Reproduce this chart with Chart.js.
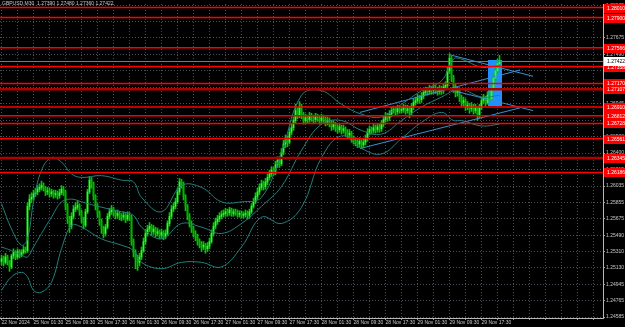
<!DOCTYPE html>
<html>
<head>
<meta charset="utf-8">
<script src="https://cdn.jsdelivr.net/npm/chart.js@4.4.1/dist/chart.umd.min.js"></script>
<style>
  html, body { margin: 0; padding: 0; background: #000; }
  canvas { display: block; }
</style>
</head>
<body>
<canvas id="gbpusd" width="625" height="327"></canvas>
<script>
// GBPUSD M30, 22 Nov - 29 Nov 2024, one entry per bar (bar index = position in array)
const timeLabels = ['22 Nov 2024', '25 Nov 01:30', '25 Nov 09:30', '25 Nov 17:30', '26 Nov 01:30', '26 Nov 09:30',
    '26 Nov 17:30', '27 Nov 01:30', '27 Nov 09:30', '27 Nov 17:30', '28 Nov 01:30', '28 Nov 09:30',
    '28 Nov 17:30', '29 Nov 01:30', '29 Nov 09:30', '29 Nov 17:30'];

const gridLevels = [1.24585, 1.24765, 1.24945, 1.25130, 1.25310, 1.25490, 1.25675, 1.25855, 1.26035, 1.26215,
    1.26400, 1.26580, 1.26760, 1.26945, 1.27125, 1.27310, 1.27490, 1.27675, 1.27855, 1.28035];

const opens = [
    1.2520,1.2523,1.2519,1.2525,1.2519,1.2514,1.2526,1.2530,1.2525,1.2531,
    1.2527,1.2530,1.2533,1.2532,1.2581,1.2589,1.2591,1.2595,1.2597,1.2600,
    1.2602,1.2604,1.2601,1.2597,1.2598,1.2595,1.2597,1.2594,1.2595,1.2593,
    1.2596,1.2600,1.2597,1.2581,1.2567,1.2559,1.2570,1.2578,1.2580,1.2582,
    1.2575,1.2567,1.2560,1.2575,1.2597,1.2610,1.2606,1.2592,1.2581,1.2573,
    1.2564,1.2556,1.2551,1.2558,1.2570,1.2575,1.2578,1.2573,1.2571,1.2573,
    1.2570,1.2569,1.2571,1.2567,1.2571,1.2569,1.2542,1.2530,1.2523,1.2519,
    1.2525,1.2532,1.2542,1.2551,1.2556,1.2559,1.2553,1.2556,1.2551,1.2553,
    1.2549,1.2552,1.2548,1.2551,1.2562,1.2570,1.2578,1.2581,1.2586,1.2597,
    1.2608,1.2606,1.2592,1.2581,1.2570,1.2562,1.2556,1.2551,1.2547,1.2542,
    1.2539,1.2536,1.2538,1.2534,1.2537,1.2542,1.2551,1.2559,1.2564,1.2567,
    1.2570,1.2572,1.2573,1.2575,1.2574,1.2577,1.2573,1.2575,1.2574,1.2572,
    1.2573,1.2571,1.2572,1.2573,1.2571,1.2575,1.2581,1.2586,1.2592,1.2597,
    1.2602,1.2606,1.2603,1.2608,1.2613,1.2617,1.2621,1.2619,1.2627,1.2632,
    1.2628,1.2641,1.2650,1.2656,1.2652,1.2663,1.2668,1.2676,1.2687,1.2682,
    1.2691,1.2682,1.2676,1.2679,1.2677,1.2681,1.2679,1.2677,1.2680,1.2678,
    1.2676,1.2679,1.2677,1.2674,1.2676,1.2673,1.2669,1.2672,1.2668,1.2666,
    1.2669,1.2665,1.2667,1.2663,1.2660,1.2662,1.2656,1.2654,1.2652,1.2650,
    1.2653,1.2649,1.2652,1.2656,1.2663,1.2666,1.2665,1.2668,1.2666,1.2669,
    1.2667,1.2672,1.2677,1.2681,1.2679,1.2683,1.2687,1.2688,1.2686,1.2689,
    1.2687,1.2688,1.2690,1.2687,1.2689,1.2685,1.2691,1.2696,1.2698,1.2701,
    1.2699,1.2703,1.2707,1.2709,1.2708,1.2711,1.2709,1.2712,1.2710,1.2708,
    1.2711,1.2709,1.2713,1.2715,1.2731,1.2745,1.2723,1.2712,1.2707,1.2709,
    1.2701,1.2696,1.2698,1.2691,1.2693,1.2689,1.2692,1.2687,1.2690,1.2682,
    1.2690,1.2698,1.2701,1.2696,1.2704,1.2700,1.2712,1.2723,1.2731,1.2739];

const highs = [
    1.2527,1.2526,1.2529,1.2527,1.2521,1.2528,1.2534,1.2532,1.2534,1.2533,
    1.2533,1.2537,1.2536,1.2585,1.2594,1.2596,1.2599,1.2601,1.2604,1.2606,
    1.2609,1.2607,1.2603,1.2602,1.2601,1.2600,1.2599,1.2599,1.2598,1.2600,
    1.2604,1.2603,1.2599,1.2584,1.2570,1.2574,1.2582,1.2585,1.2587,1.2584,
    1.2577,1.2569,1.2578,1.2600,1.2614,1.2613,1.2608,1.2594,1.2584,1.2576,
    1.2567,1.2559,1.2561,1.2573,1.2579,1.2582,1.2580,1.2576,1.2577,1.2575,
    1.2573,1.2575,1.2573,1.2575,1.2574,1.2571,1.2545,1.2533,1.2527,1.2529,
    1.2536,1.2546,1.2555,1.2560,1.2563,1.2561,1.2560,1.2558,1.2557,1.2555,
    1.2556,1.2554,1.2555,1.2565,1.2574,1.2582,1.2585,1.2590,1.2601,1.2612,
    1.2611,1.2608,1.2594,1.2583,1.2573,1.2565,1.2559,1.2554,1.2550,1.2545,
    1.2542,1.2542,1.2540,1.2541,1.2546,1.2555,1.2563,1.2568,1.2571,1.2574,
    1.2576,1.2577,1.2579,1.2578,1.2580,1.2579,1.2578,1.2578,1.2577,1.2576,
    1.2576,1.2575,1.2577,1.2576,1.2578,1.2584,1.2590,1.2596,1.2601,1.2606,
    1.2610,1.2609,1.2612,1.2617,1.2621,1.2625,1.2624,1.2631,1.2636,1.2635,
    1.2645,1.2654,1.2660,1.2659,1.2667,1.2672,1.2680,1.2694,1.2690,1.2697,
    1.2694,1.2685,1.2683,1.2682,1.2685,1.2684,1.2682,1.2684,1.2683,1.2681,
    1.2683,1.2682,1.2680,1.2680,1.2679,1.2676,1.2676,1.2674,1.2671,1.2673,
    1.2671,1.2671,1.2669,1.2666,1.2666,1.2664,1.2659,1.2657,1.2655,1.2657,
    1.2655,1.2656,1.2660,1.2667,1.2670,1.2669,1.2672,1.2671,1.2673,1.2672,
    1.2676,1.2681,1.2685,1.2684,1.2687,1.2691,1.2692,1.2691,1.2693,1.2692,
    1.2692,1.2694,1.2693,1.2693,1.2692,1.2695,1.2700,1.2702,1.2705,1.2704,
    1.2707,1.2711,1.2713,1.2712,1.2715,1.2714,1.2716,1.2715,1.2713,1.2715,
    1.2714,1.2717,1.2719,1.2736,1.2750,1.2747,1.2726,1.2716,1.2713,1.2712,
    1.2704,1.2702,1.2700,1.2697,1.2695,1.2696,1.2694,1.2694,1.2692,1.2694,
    1.2702,1.2705,1.2703,1.2708,1.2707,1.2716,1.2727,1.2735,1.2744,1.2748];

const lows = [
    1.2516,1.2515,1.2517,1.2516,1.2509,1.2512,1.2523,1.2522,1.2523,1.2524,
    1.2525,1.2528,1.2529,1.2530,1.2577,1.2585,1.2588,1.2592,1.2594,1.2597,
    1.2599,1.2598,1.2593,1.2594,1.2591,1.2592,1.2590,1.2591,1.2589,1.2590,
    1.2594,1.2593,1.2577,1.2562,1.2552,1.2556,1.2567,1.2575,1.2577,1.2571,
    1.2563,1.2556,1.2558,1.2573,1.2595,1.2601,1.2588,1.2577,1.2569,1.2560,
    1.2551,1.2546,1.2548,1.2556,1.2567,1.2572,1.2570,1.2567,1.2568,1.2566,
    1.2565,1.2566,1.2563,1.2565,1.2565,1.2538,1.2525,1.2512,1.2510,1.2515,
    1.2522,1.2530,1.2539,1.2548,1.2553,1.2549,1.2550,1.2547,1.2548,1.2545,
    1.2546,1.2544,1.2545,1.2549,1.2559,1.2567,1.2575,1.2578,1.2584,1.2594,
    1.2601,1.2588,1.2576,1.2566,1.2558,1.2552,1.2547,1.2543,1.2538,1.2535,
    1.2531,1.2533,1.2529,1.2531,1.2534,1.2540,1.2548,1.2556,1.2561,1.2564,
    1.2567,1.2569,1.2570,1.2570,1.2571,1.2570,1.2570,1.2571,1.2569,1.2569,
    1.2568,1.2568,1.2569,1.2567,1.2568,1.2573,1.2579,1.2584,1.2589,1.2594,
    1.2599,1.2599,1.2600,1.2605,1.2610,1.2614,1.2615,1.2616,1.2624,1.2624,
    1.2626,1.2638,1.2646,1.2647,1.2650,1.2660,1.2665,1.2673,1.2678,1.2679,
    1.2678,1.2672,1.2673,1.2673,1.2674,1.2675,1.2673,1.2674,1.2675,1.2672,
    1.2673,1.2674,1.2670,1.2671,1.2669,1.2665,1.2666,1.2664,1.2662,1.2663,
    1.2661,1.2662,1.2659,1.2656,1.2657,1.2652,1.2650,1.2648,1.2646,1.2647,
    1.2645,1.2646,1.2649,1.2653,1.2660,1.2661,1.2662,1.2662,1.2663,1.2663,
    1.2664,1.2669,1.2674,1.2675,1.2676,1.2680,1.2684,1.2682,1.2683,1.2684,
    1.2684,1.2685,1.2683,1.2684,1.2679,1.2682,1.2688,1.2693,1.2695,1.2695,
    1.2696,1.2700,1.2704,1.2704,1.2705,1.2705,1.2706,1.2706,1.2704,1.2705,
    1.2705,1.2706,1.2710,1.2712,1.2728,1.2719,1.2707,1.2702,1.2703,1.2697,
    1.2692,1.2692,1.2687,1.2688,1.2684,1.2686,1.2683,1.2684,1.2676,1.2679,
    1.2688,1.2695,1.2692,1.2694,1.2697,1.2698,1.2709,1.2720,1.2728,1.2736];

const closes = [
    1.2523,1.2519,1.2525,1.2519,1.2514,1.2526,1.2530,1.2525,1.2531,1.2527,
    1.2530,1.2533,1.2532,1.2581,1.2589,1.2591,1.2595,1.2597,1.2600,1.2602,
    1.2604,1.2601,1.2597,1.2598,1.2595,1.2597,1.2594,1.2595,1.2593,1.2596,
    1.2600,1.2597,1.2581,1.2567,1.2559,1.2570,1.2578,1.2580,1.2582,1.2575,
    1.2567,1.2560,1.2575,1.2597,1.2610,1.2606,1.2592,1.2581,1.2573,1.2564,
    1.2556,1.2551,1.2558,1.2570,1.2575,1.2578,1.2573,1.2571,1.2573,1.2570,
    1.2569,1.2571,1.2567,1.2571,1.2569,1.2542,1.2530,1.2523,1.2519,1.2525,
    1.2532,1.2542,1.2551,1.2556,1.2559,1.2553,1.2556,1.2551,1.2553,1.2549,
    1.2552,1.2548,1.2551,1.2562,1.2570,1.2578,1.2581,1.2586,1.2597,1.2608,
    1.2606,1.2592,1.2581,1.2570,1.2562,1.2556,1.2551,1.2547,1.2542,1.2539,
    1.2536,1.2538,1.2534,1.2537,1.2542,1.2551,1.2559,1.2564,1.2567,1.2570,
    1.2572,1.2573,1.2575,1.2574,1.2577,1.2573,1.2575,1.2574,1.2572,1.2573,
    1.2571,1.2572,1.2573,1.2571,1.2575,1.2581,1.2586,1.2592,1.2597,1.2602,
    1.2606,1.2603,1.2608,1.2613,1.2617,1.2621,1.2619,1.2627,1.2632,1.2628,
    1.2641,1.2650,1.2656,1.2652,1.2663,1.2668,1.2676,1.2687,1.2682,1.2691,
    1.2682,1.2676,1.2679,1.2677,1.2681,1.2679,1.2677,1.2680,1.2678,1.2676,
    1.2679,1.2677,1.2674,1.2676,1.2673,1.2669,1.2672,1.2668,1.2666,1.2669,
    1.2665,1.2667,1.2663,1.2660,1.2662,1.2656,1.2654,1.2652,1.2650,1.2653,
    1.2649,1.2652,1.2656,1.2663,1.2666,1.2665,1.2668,1.2666,1.2669,1.2667,
    1.2672,1.2677,1.2681,1.2679,1.2683,1.2687,1.2688,1.2686,1.2689,1.2687,
    1.2688,1.2690,1.2687,1.2689,1.2685,1.2691,1.2696,1.2698,1.2701,1.2699,
    1.2703,1.2707,1.2709,1.2708,1.2711,1.2709,1.2712,1.2710,1.2708,1.2711,
    1.2709,1.2713,1.2715,1.2731,1.2745,1.2723,1.2712,1.2707,1.2709,1.2701,
    1.2696,1.2698,1.2691,1.2693,1.2689,1.2692,1.2687,1.2690,1.2682,1.2690,
    1.2698,1.2701,1.2696,1.2704,1.2700,1.2712,1.2723,1.2731,1.2739,1.2742];

// Bollinger bands, read at these bar indices
const bbIndex  = [0, 5, 10, 13, 16, 20, 25, 30, 35, 40, 50, 60, 66, 70, 80, 90, 100, 110, 120, 130, 140, 150,
    160, 170, 180, 190, 200, 210, 220, 226, 230, 240, 249];
const bbUpper  = [1.2584, 1.2556, 1.2538, 1.2545, 1.2586, 1.2621, 1.2635, 1.2630, 1.2617, 1.2613, 1.2615, 1.2610,
    1.2608, 1.2591, 1.2575, 1.2604, 1.2602, 1.2586, 1.2586, 1.2591, 1.2641, 1.2704,
    1.2709, 1.2694, 1.2683, 1.2680, 1.2694, 1.2709, 1.2720, 1.2744, 1.2744, 1.2735, 1.2737];
const bbMiddle = [1.2536, 1.2532, 1.2527, 1.2525, 1.2536, 1.2551, 1.2569, 1.2586, 1.2589, 1.2586, 1.2580, 1.2575,
    1.2571, 1.2558, 1.2545, 1.2562, 1.2558, 1.2551, 1.2562, 1.2581, 1.2603, 1.2643,
    1.2672, 1.2676, 1.2665, 1.2661, 1.2676, 1.2691, 1.2702, 1.2709, 1.2711, 1.2702, 1.2704];
const bbLower  = [1.2488, 1.2503, 1.2508, 1.2503, 1.2488, 1.2486, 1.2497, 1.2534, 1.2560, 1.2558, 1.2545, 1.2538,
    1.2532, 1.2519, 1.2512, 1.2519, 1.2519, 1.2514, 1.2536, 1.2569, 1.2562, 1.2580,
    1.2635, 1.2659, 1.2645, 1.2639, 1.2656, 1.2674, 1.2685, 1.2676, 1.2676, 1.2670, 1.2672];

// hand-drawn channel lines: [startBar, startPrice, endBar, endPrice]
const trendLines = [
    [223.75, 1.2749, 265.75, 1.2725],
    [179.25, 1.2685, 259.25, 1.2732],
    [224.25, 1.2710, 265.75, 1.2687],
    [179.25, 1.2645, 259.25, 1.2690]
];

// horizontal levels
const redLevels  = [1.28010, 1.27900, 1.27566, 1.27358, 1.27170, 1.26910, 1.26812, 1.26728, 1.26561, 1.26186];
const darkLevels = [1.27107, 1.26345];
const bidPrice = 1.27422;
const headerText = 'GBPUSD,M30  1.27390 1.27480 1.27360 1.27422';

// rectangle object: bars 243..250, price range
const boxBars = [243.25, 250.25];
const boxPrices = [1.2743, 1.2692];

const FONT = 'Liberation Sans, Arial, sans-serif';

const wickData = opens.map((o, i) => ({ x: i, y: [lows[i], highs[i]] }));
const bodyData = opens.map((o, i) => ({ x: i, y: [o, closes[i]] }));

function bandSet(values) {
    return {
        type: 'line',
        data: bbIndex.map((b, k) => ({ x: b, y: values[k] })),
        borderColor: '#23807c',
        borderWidth: 1,
        pointRadius: 0,
        tension: 0.4,
        fill: false,
        order: 0
    };
}

var lineSets = trendLines.map(function(t) {
    return {
        type: 'line',
        data: [{ x: t[0], y: t[1] }, { x: t[2], y: t[3] }],
        borderColor: '#3b8fd0',
        borderWidth: 1,
        pointRadius: 0,
        fill: false,
        order: 0
    };
});

var mtOverlay = {
    id: 'mtOverlay',
    beforeDatasetsDraw(chart) {
        var ctx = chart.ctx, x = chart.scales.x, y = chart.scales.y;
        var x0 = x.getPixelForValue(boxBars[0]), x1 = x.getPixelForValue(boxBars[1]);
        var y0 = y.getPixelForValue(boxPrices[0]), y1 = y.getPixelForValue(boxPrices[1]);
        ctx.save();
        ctx.fillStyle = '#1e90ff';
        ctx.fillRect(Math.round(x0), Math.round(y0), Math.round(x1 - x0), Math.round(y1 - y0));
        ctx.restore();
    },
    afterDatasetsDraw(chart) {
        var ctx = chart.ctx, y = chart.scales.y, area = chart.chartArea;
        ctx.save();
        ctx.beginPath();
        ctx.rect(area.left, area.top, area.right - area.left, area.bottom - area.top);
        ctx.clip();
        // bid line
        var by = Math.round(y.getPixelForValue(bidPrice)) + 0.5;
        ctx.strokeStyle = '#707a88';
        ctx.lineWidth = 1;
        ctx.beginPath(); ctx.moveTo(area.left, by); ctx.lineTo(area.right, by); ctx.stroke();
        // levels
        redLevels.forEach(function(v) {
            var py = y.getPixelForValue(v);
            ctx.strokeStyle = '#ff0000';
            ctx.lineWidth = 1.5;
            ctx.beginPath(); ctx.moveTo(area.left, py); ctx.lineTo(area.right, py); ctx.stroke();
        });
        darkLevels.forEach(function(v) {
            var py = y.getPixelForValue(v);
            ctx.strokeStyle = '#b00000';
            ctx.lineWidth = 2.5;
            ctx.beginPath(); ctx.moveTo(area.left, py); ctx.lineTo(area.right, py); ctx.stroke();
        });
        ctx.restore();

        ctx.save();
        ctx.font = '5px ' + FONT;
        ctx.fillStyle = '#c8c8c8';
        ctx.textBaseline = 'top';
        ctx.fillText(headerText, 2, 1);
        ctx.restore();
    },
    afterDraw(chart) {
        var ctx = chart.ctx, y = chart.scales.y, area = chart.chartArea;
        var lx = area.right + 1;
        ctx.save();
        ctx.font = '5px ' + FONT;
        ctx.textBaseline = 'middle';
        redLevels.concat(darkLevels).forEach(function(v) {
            var py = Math.round(y.getPixelForValue(v));
            ctx.fillStyle = '#ff0000';
            ctx.fillRect(lx, py - 4, 22, 9);
            ctx.fillStyle = '#ffffff';
            ctx.fillText(v.toFixed(5), lx + 3, py + 0.5);
        });
        var by = Math.round(y.getPixelForValue(bidPrice));
        ctx.fillStyle = '#ffffff';
        ctx.fillRect(lx, by - 4, 22, 9);
        ctx.fillStyle = '#000000';
        ctx.fillText(bidPrice.toFixed(5), lx + 3, by + 0.5);
        ctx.restore();
    }
};

var gbpChart = new Chart(document.getElementById('gbpusd'), {
    type: 'bar',
    data: {
        datasets: [
            bandSet(bbUpper),
            bandSet(bbMiddle),
            bandSet(bbLower)
        ].concat(lineSets).concat([
            {
                data: bodyData,
                barThickness: 1,
                minBarLength: 1,
                grouped: false,
                backgroundColor: function(c) {
                    var i = c.dataIndex;
                    return closes[i] >= opens[i] ? '#2cff2c' : '#00b400';
                },
                order: 1
            },
            {
                data: wickData,
                barThickness: 1,
                grouped: false,
                backgroundColor: '#00c800',
                order: 2
            }
        ])
    },
    options: {
        responsive: false,
        animation: false,
        devicePixelRatio: 1,
        layout: { padding: 0 },
        plugins: {
            legend: { display: false },
            tooltip: { enabled: false }
        },
        scales: {
            x: {
                type: 'linear',
                min: -0.75,
                max: 300.75,
                offset: false,
                bounds: 'data',
                afterBuildTicks: function(scale) {
                    var t = [];
                    for (var v = 0; v <= 296; v += 8) t.push({ value: v });
                    scale.ticks = t;
                },
                afterFit: function(scale) { scale.height = 9; },
                grid: {
                    offset: false,
                    color: '#4a505c',
                    lineWidth: 1,
                    drawTicks: true,
                    tickLength: 2,
                    tickColor: '#9a9a9a'
                },
                border: { display: true, color: '#b8b8b8', dash: [1, 2] },
                ticks: {
                    autoSkip: false,
                    maxRotation: 0,
                    align: 'start',
                    padding: 0,
                    color: '#c8c8c8',
                    font: { family: FONT, size: 5 },
                    callback: function(v) {
                        return v % 16 === 0 ? (timeLabels[v / 16] || '') : '';
                    }
                }
            },
            y: {
                type: 'linear',
                position: 'right',
                min: 1.24574,
                max: 1.2805,
                beginAtZero: false,
                bounds: 'data',
                afterBuildTicks: function(scale) {
                    scale.ticks = gridLevels.map(function(v) { return { value: v }; });
                },
                afterFit: function(scale) { scale.width = 22; },
                grid: {
                    color: '#4a505c',
                    lineWidth: 1,
                    drawTicks: true,
                    tickLength: 2,
                    tickColor: '#9a9a9a'
                },
                border: { display: true, color: '#b8b8b8', dash: [1, 2] },
                ticks: {
                    padding: 1,
                    color: '#c8c8c8',
                    font: { family: FONT, size: 5 },
                    callback: function(v) { return Number(v).toFixed(5); }
                }
            }
        }
    },
    plugins: [mtOverlay]
});
</script>
</body>
</html>
